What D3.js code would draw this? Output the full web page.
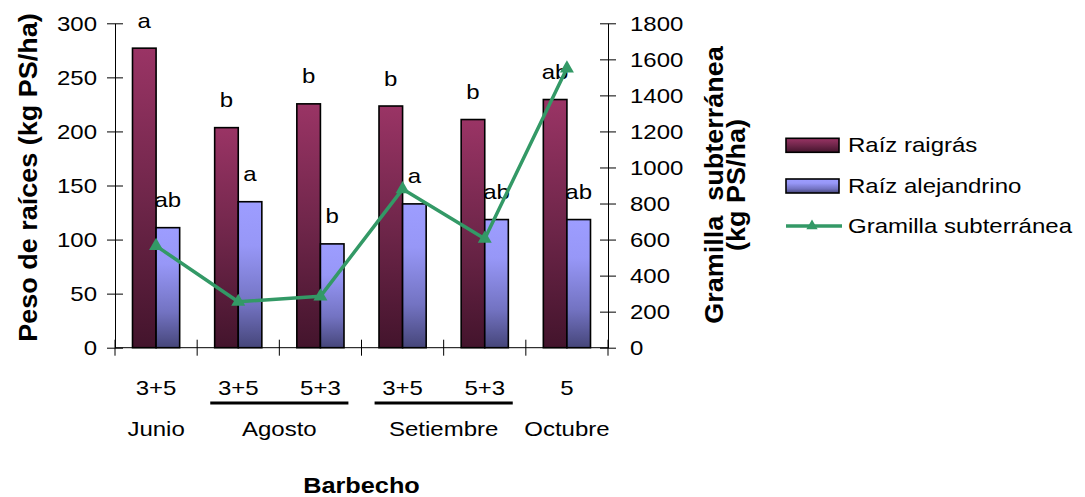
<!DOCTYPE html>
<html>
<head>
<meta charset="utf-8">
<script src="https://cdn.jsdelivr.net/npm/d3@7"></script>
<style>
  html, body { margin: 0; padding: 0; background: #fff; }
  svg { display: block; font-family: "Liberation Sans", Arial, sans-serif; }
</style>
</head>
<body>
<svg id="chart" width="1085" height="497"></svg>
<script>
// Root weight by fallow treatment (kg PS/ha)
const categories = ["Junio 3+5", "Agosto 3+5", "Agosto 5+3", "Setiembre 3+5", "Setiembre 5+3", "Octubre 5"];
const dosis = ["3+5", "3+5", "5+3", "3+5", "5+3", "5"];
const meses = ["Junio", "Agosto", "Agosto", "Setiembre", "Setiembre", "Octubre"];
const raigras = [277, 203.5, 225.5, 223.5, 211, 229.5];
const alejandrino = [111, 135, 96, 133, 118.5, 118.5];
const gramilla = [565, 255, 285, 880, 605, 1550];
const letrasRaigras = ["a", "b", "b", "b", "b", "ab"];
const letrasAlejandrino = ["ab", "a", "b", "a", "ab", "ab"];
const seriesNames = ["Raíz raigrás", "Raíz alejandrino", "Gramilla subterránea"];
const leftTicks = [0, 50, 100, 150, 200, 250, 300];
const rightTicks = [0, 200, 400, 600, 800, 1000, 1200, 1400, 1600, 1800];

const svg = d3.select("#chart");
const plotLeft = 115, plotRight = 608, plotTop = 23.3, plotBottom = 347.7;
const green = "#339966";
const SX = 1.2; // horizontal stretch of the regular labels

const x = d3.scaleBand().domain(categories).range([plotLeft, plotRight]);
const bw = x.bandwidth();
const x1 = d3.scaleBand().domain(["raigras", "alejandrino"]).range([bw * 0.213, bw * 0.787]);
const yL = d3.scaleLinear().domain([0, 300]).range([plotBottom, plotTop]);
const yR = d3.scaleLinear().domain([0, 1800]).range([plotBottom, plotTop]);

// Gradients for the bar fills
const defs = svg.append("defs");
function grad(id, stops) {
  const g = defs.append("linearGradient").attr("id", id)
    .attr("x1", 0).attr("y1", 0).attr("x2", 0).attr("y2", 1);
  stops.forEach(([o, c]) => g.append("stop").attr("offset", o).attr("stop-color", c));
}
grad("gRaigras", [[0, "#9a3465"], [0.5, "#6f264a"], [1, "#43142c"]]);
grad("gAlej", [[0, "#9d9dff"], [0.3, "#9797f7"], [0.7, "#7373c2"], [1, "#46467a"]]);

function stretched(sel, tx, ty, sx) {
  return sel.attr("transform", `translate(${tx},${ty}) scale(${sx},1)`);
}

// Bars
const rows = categories.map((c, i) => ({
  cat: c, r: raigras[i], a: alejandrino[i], g: gramilla[i],
  lr: letrasRaigras[i], la: letrasAlejandrino[i]
}));

const barG = svg.append("g");
rows.forEach(d => {
  barG.append("rect")
    .attr("x", x(d.cat) + x1("raigras")).attr("y", yL(d.r))
    .attr("width", x1.bandwidth()).attr("height", yL(0) - yL(d.r))
    .attr("fill", "url(#gRaigras)").attr("stroke", "#000").attr("stroke-width", 1.6);
  barG.append("rect")
    .attr("x", x(d.cat) + x1("alejandrino")).attr("y", yL(d.a))
    .attr("width", x1.bandwidth()).attr("height", yL(0) - yL(d.a))
    .attr("fill", "url(#gAlej)").attr("stroke", "#000").attr("stroke-width", 1.6);
});

// Significance letters above the bars
const lblG = svg.append("g").attr("font-size", 20).attr("text-anchor", "middle");
rows.forEach(d => {
  stretched(lblG.append("text").text(d.lr),
    x(d.cat) + x1("raigras") + x1.bandwidth() / 2, yL(d.r) - 20.5, SX);
  stretched(lblG.append("text").text(d.la),
    x(d.cat) + x1("alejandrino") + x1.bandwidth() / 2, yL(d.a) - 20.5, SX);
});

// Left axis
const axL = svg.append("g").attr("transform", `translate(${plotLeft},0)`)
  .call(d3.axisLeft(yL).tickValues(leftTicks).tickSizeOuter(0).tickSizeInner(8).tickFormat(d3.format("d")));
axL.attr("font-family", null).attr("font-size", 20);
axL.selectAll(".tick line").attr("x1", 8).attr("x2", -8);
axL.selectAll(".tick text").attr("x", null).attr("dy", null)
  .attr("transform", `translate(-18,7) scale(${SX},1)`).attr("fill", "#000");

// Right axis
const axR = svg.append("g").attr("transform", `translate(${plotRight},0)`)
  .call(d3.axisRight(yR).tickValues(rightTicks).tickSizeOuter(0).tickSizeInner(8).tickFormat(d3.format("d")));
axR.attr("font-family", null).attr("font-size", 20);
axR.selectAll(".tick line").attr("x1", -8).attr("x2", 8);
axR.selectAll(".tick text").attr("x", null).attr("dy", null)
  .attr("transform", `translate(22,7) scale(${SX},1)`).attr("fill", "#000");

// Category axis with ticks at band boundaries
const xAx = svg.append("g");
xAx.append("line").attr("x1", plotLeft).attr("x2", plotRight).attr("y1", plotBottom).attr("y2", plotBottom)
  .attr("stroke", "#000");
const bounds = categories.map(c => x(c)).concat([x.range()[1]]);
xAx.selectAll("line.tk").data(bounds).join("line").attr("class", "tk")
  .attr("x1", d => d).attr("x2", d => d).attr("y1", plotBottom - 8).attr("y2", plotBottom + 8)
  .attr("stroke", "#000");

// Treatment labels and month labels
const catG = svg.append("g").attr("font-size", 20).attr("text-anchor", "middle");
categories.forEach((c, i) => {
  stretched(catG.append("text").text(dosis[i]), x(c) + bw / 2, 395, SX);
});
const mesGroups = d3.groups(categories.map((c, i) => ({ c, m: meses[i] })), d => d.m);
mesGroups.forEach(([m, items]) => {
  const centers = items.map(it => x(it.c) + bw / 2);
  const cx = d3.mean(centers);
  stretched(catG.append("text").text(m), cx, 436, SX);
  if (items.length > 1) {
    catG.append("line")
      .attr("x1", d3.min(centers) - 28).attr("x2", d3.max(centers) + 28)
      .attr("y1", 403).attr("y2", 403)
      .attr("stroke", "#000").attr("stroke-width", 3);
  }
});

// Axis titles
stretched(svg.append("text").text("Barbecho").attr("font-size", 22).attr("font-weight", "bold")
  .attr("text-anchor", "middle"), (plotLeft + plotRight) / 2, 493, 1.15);

svg.append("text").text("Peso de raíces (kg PS/ha)")
  .attr("font-size", 27).attr("font-weight", "bold").attr("text-anchor", "middle")
  .attr("transform", "translate(36.5,177.5) rotate(-90) scale(1,0.93)");
svg.append("text").text("Gramilla  subterránea")
  .style("white-space", "pre")
  .attr("font-size", 27).attr("font-weight", "bold").attr("text-anchor", "middle")
  .attr("transform", "translate(723,185) rotate(-90) scale(1,0.93)");
svg.append("text").text("(kg PS/ha)")
  .attr("font-size", 27).attr("font-weight", "bold").attr("text-anchor", "middle")
  .attr("transform", "translate(745,185) rotate(-90) scale(1,0.93)");

// Line series on the right axis
const line = d3.line().x(d => x(d.cat) + bw / 2).y(d => yR(d.g));
svg.append("path").datum(rows).attr("d", line)
  .attr("fill", "none").attr("stroke", green).attr("stroke-width", 3.5).attr("stroke-linejoin", "round");
svg.append("g").selectAll("path").data(rows).join("path")
  .attr("d", d3.symbol(d3.symbolTriangle, 85))
  .attr("transform", d => `translate(${x(d.cat) + bw / 2},${yR(d.g)})`)
  .attr("fill", green);

// Legend
const leg = svg.append("g").attr("font-size", 20);
const legY = [145.3, 186, 226];
leg.append("rect").attr("x", 786).attr("y", legY[0] - 7).attr("width", 53).attr("height", 14)
  .attr("fill", "url(#gRaigras)").attr("stroke", "#000").attr("stroke-width", 1.6);
leg.append("rect").attr("x", 786).attr("y", legY[1] - 7).attr("width", 53).attr("height", 14)
  .attr("fill", "url(#gAlej)").attr("stroke", "#000").attr("stroke-width", 1.6);
leg.append("line").attr("x1", 786).attr("x2", 842).attr("y1", legY[2]).attr("y2", legY[2])
  .attr("stroke", green).attr("stroke-width", 3.5);
leg.append("path").attr("d", d3.symbol(d3.symbolTriangle, 55))
  .attr("transform", `translate(812,${legY[2]})`).attr("fill", green);
seriesNames.forEach((n, i) => {
  stretched(leg.append("text").text(n), 848, legY[i] + 6.5, SX);
});
</script>
</body>
</html>
